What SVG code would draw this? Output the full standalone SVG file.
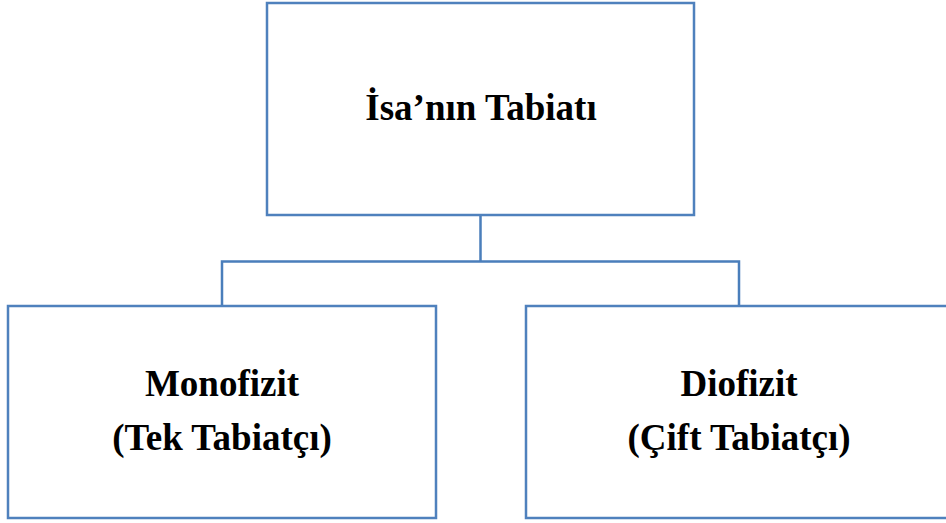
<svg xmlns="http://www.w3.org/2000/svg" width="946" height="523" viewBox="0 0 946 523">
<style>
.box{fill:#fff;stroke:#4F81BD;stroke-width:2.5}
.conn{fill:none;stroke:#4A7EBB;stroke-width:2.5}
.t{font-family:"Liberation Serif","Times New Roman",serif;font-weight:bold;font-size:37px;fill:#000;text-anchor:middle}
</style>
<rect width="946" height="523" fill="#fff"/>
<g id="connectors">
<path class="conn" d="M480.5 215V261.5M222 306V261.5H739V306"/>
</g>
<g id="node-root">
<rect class="box" x="267" y="3" width="427" height="212"/>
<text class="t" x="481" y="120">İsa’nın Tabiatı</text>
</g>
<g id="node-mono">
<rect class="box" x="8" y="306" width="428" height="212"/>
<text class="t" x="222" y="396">Monofizit</text>
<text class="t" x="222" y="450">(Tek Tabiatçı)</text>
</g>
<g id="node-dio">
<rect class="box" x="526" y="306" width="426" height="212"/>
<text class="t" x="739" y="396">Diofizit</text>
<text class="t" x="739" y="450">(Çift Tabiatçı)</text>
</g>
</svg>
